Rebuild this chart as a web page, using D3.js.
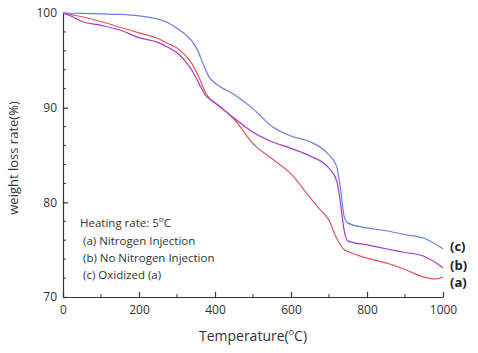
<!DOCTYPE html>
<html><head><meta charset="utf-8">
<script src="https://cdn.jsdelivr.net/npm/d3@7"></script>
<style>body{margin:0;background:#fff}svg{display:block}</style>
</head><body>
<svg id="c" width="478" height="353"></svg>
<script>
const tempsC = [0,50,100,150,200,250,280,300,320,340,355,370,385,400,450,500,550,600,650,700,720,730,740,750,800,850,900,950,1000];
const seriesC = [100,99.95,99.9,99.85,99.7,99.35,98.9,98.4,97.8,97.0,96.0,94.5,93.2,92.6,91.4,89.9,88.0,87.0,86.4,85.0,83.8,81.5,78.5,77.8,77.3,77.0,76.6,76.2,75.1];
const tempsB = [0,25,50,100,150,200,250,280,300,320,340,360,375,390,400,450,500,550,600,650,700,720,730,740,750,800,850,900,950,1000];
const seriesB = [100,99.6,99.1,98.7,98.2,97.4,96.9,96.3,95.8,95.0,93.9,92.4,91.3,90.8,90.5,88.9,87.4,86.4,85.7,84.9,83.6,82.3,80.0,77.0,75.9,75.5,75.1,74.7,74.3,73.1];
const tempsA = [0,25,50,100,150,200,250,280,300,320,340,360,375,390,400,450,500,550,600,650,675,700,720,740,750,800,850,900,950,980,1000];
const seriesA = [100,99.8,99.6,99.1,98.5,97.9,97.3,96.7,96.3,95.6,94.6,93.0,91.6,90.8,90.5,88.8,86.2,84.6,83.0,80.5,79.3,78.1,76.2,75.0,74.8,74.1,73.6,72.9,72.1,71.9,72.1];
const xTicks = [0,200,400,600,800,1000];
const yTicks = [70,80,90,100];
const seriesLabels = ["(c)","(b)","(a)"];
const legendLines = ["(a) Nitrogen Injection","(b) No Nitrogen Injection","(c) Oxidized (a)"];

const svg = d3.select("#c");
const x = d3.scaleLinear().domain([0,1000]).range([63,443]);
const y = d3.scaleLinear().domain([70,100]).range([297,13]);
const font = "'Open Sans','Noto Sans',sans-serif";
const axisCol = "#333";

// minor ticks
const g = svg.append("g");
d3.range(0,1001,100).filter(v=>v%200!==0).forEach(v=>{
  g.append("line").attr("x1",x(v)).attr("x2",x(v)).attr("y1",y(70)).attr("y2",y(70)-3).attr("stroke",axisCol).attr("stroke-width",1);
});
d3.range(70,101,2).filter(v=>v%10!==0).forEach(v=>{
  g.append("line").attr("x1",x(0)).attr("x2",x(0)+3).attr("y1",y(v)).attr("y2",y(v)).attr("stroke",axisCol).attr("stroke-width",1);
});

const xAxis = svg.append("g").attr("transform",`translate(0,${y(70)})`)
  .call(d3.axisBottom(x).tickValues(xTicks).tickFormat(d3.format("d")).tickSizeInner(-5).tickSizeOuter(0).tickPadding(8));
const yAxis = svg.append("g").attr("transform",`translate(${x(0)},0)`)
  .call(d3.axisLeft(y).tickValues(yTicks).tickFormat(d3.format("d")).tickSizeInner(-5).tickSizeOuter(0).tickPadding(6));
[xAxis,yAxis].forEach(a=>{
  a.selectAll("path,line").attr("stroke",axisCol).attr("stroke-width",1.2);
  a.selectAll("text").attr("fill","#333").style("font-family",font).style("font-size","12px");
});

const line = d3.line().curve(d3.curveMonotoneX);
const series = [
  {t:tempsA, v:seriesA, color:"#d65a5a"},
  {t:tempsB, v:seriesB, color:"#a03ad0"},
  {t:tempsC, v:seriesC, color:"#6a7fdc"}
];
series.forEach(s=>{
  svg.append("path").attr("d",line(s.t.map((t,i)=>[x(t),y(s.v[i])])))
    .attr("fill","none").attr("stroke",s.color).attr("stroke-width",1.2);
});

// right labels
const labY = [251,270,287];
seriesLabels.forEach((l,i)=>{
  svg.append("text").attr("x",450).attr("y",labY[i]).text(l)
    .style("font-family",font).style("font-size","13px").style("font-weight","bold").attr("fill","#222");
});

// legend
const lg = svg.append("text").attr("x",80).attr("y",227).style("font-family",font).style("font-size","11.5px").attr("fill","#333");
lg.append("tspan").text("Heating rate: 5");
lg.append("tspan").text("o").attr("dy",-5).style("font-size","8px");
lg.append("tspan").text("C").attr("dy",5);
legendLines.forEach((l,i)=>{
  svg.append("text").attr("x",83).attr("y",245+i*17).text(l)
    .style("font-family",font).style("font-size","11.5px").attr("fill","#333");
});

// axis titles
const xt = svg.append("text").attr("x",253).attr("y",341).attr("text-anchor","middle")
  .style("font-family",font).style("font-size","14px").attr("fill","#333");
xt.append("tspan").text("Temperature(");
xt.append("tspan").text("o").attr("dy",-6).style("font-size","9px");
xt.append("tspan").text("C)").attr("dy",6);

svg.append("text").attr("transform","translate(18,158) rotate(-90)").attr("text-anchor","middle")
  .text("weight loss rate(%)").style("font-family",font).style("font-size","13px").attr("fill","#333");
</script>
</body></html>
